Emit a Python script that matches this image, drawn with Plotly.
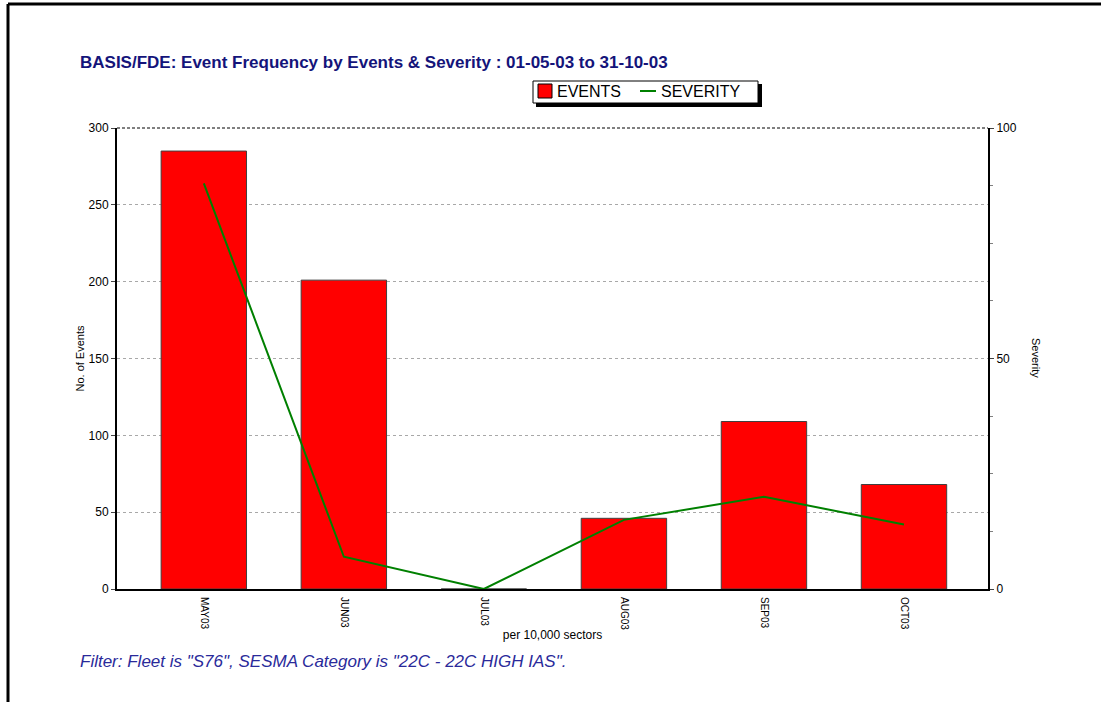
import plotly.graph_objects as go

# values
months = ["MAY03", "JUN03", "JUL03", "AUG03", "SEP03", "OCT03"]
events = [285, 201, 0, 46, 109, 68]
severity = [88, 7, 0, 15, 20, 14]

W, H = 1101, 702
L, R, T, B = 117, 988, 128, 589  # plot area in pixels

def px(x):
    return (x - L) / (R - L)

def py(y):
    return (B - y) / (B - T)

font = "Liberation Sans, Arial, sans-serif"

fig = go.Figure()
fig.add_trace(go.Bar(x=list(range(len(months))), y=events, name="EVENTS",
                     marker=dict(color="#ff0000", line=dict(color="#404040", width=1)),
                     width=0.61))
fig.add_trace(go.Scatter(x=list(range(len(months))), y=severity, name="SEVERITY",
                         mode="lines", line=dict(color="#008000", width=2), yaxis="y2"))

fig.update_layout(
    width=W, height=H,
    margin=dict(l=L, r=W - R, t=T, b=H - B),
    paper_bgcolor="white", plot_bgcolor="white",
    font=dict(family=font, size=12, color="black"),
    title=dict(text="<b>BASIS/FDE: Event Frequency by Events & Severity : 01-05-03 to 31-10-03</b>",
               x=80 / W, xanchor="left", y=1 - 62 / H, yanchor="middle",
               font=dict(family=font, size=17, color="#14147a")),
    showlegend=False,
    bargap=0.39,
    xaxis=dict(range=[-0.62, 5.6], tickmode="array", tickvals=list(range(len(months))),
               ticktext=months, tickangle=90, ticks="outside", ticklen=4,
               tickcolor="white",
               showline=True, linecolor="black", linewidth=2, showgrid=False,
               zeroline=False, tickfont=dict(size=10),
               title=dict(text="per 10,000 sectors", font=dict(size=12), standoff=1)),
    yaxis=dict(range=[0, 300], tickvals=[0, 50, 100, 150, 200, 250, 300],
               showline=True, linecolor="black", linewidth=2, ticks="outside",
               ticklen=4, showgrid=True, gridcolor="#a8a8a8", griddash="3px,3px",
               gridwidth=1, zeroline=False, tickfont=dict(size=12),
               title=dict(text="No. of Events", font=dict(size=11), standoff=2)),
    yaxis2=dict(range=[0, 100], overlaying="y", side="right",
                tickvals=[0, 50, 100], showline=True, linecolor="black", linewidth=2,
                ticks="outside", ticklen=4, showgrid=False, zeroline=False,
                tickfont=dict(size=12),
                minor=dict(dtick=12.5, ticks="outside", ticklen=3, tickcolor="#808080")),
)

shapes = [
    # top border of the plot, dashed black
    dict(type="line", xref="paper", yref="paper", x0=0, x1=1, y0=1, y1=1,
         line=dict(color="black", width=1, dash="3px,2px")),
    # legend box with drop shadow
    dict(type="rect", xref="paper", yref="paper", x0=px(536), x1=px(762),
         y0=py(84), y1=py(107), fillcolor="black", line=dict(width=0)),
    dict(type="rect", xref="paper", yref="paper", x0=px(533), x1=px(758),
         y0=py(81), y1=py(103), fillcolor="white", line=dict(color="black", width=1)),
    dict(type="rect", xref="paper", yref="paper", x0=px(538), x1=px(552),
         y0=py(84), y1=py(98), fillcolor="#ff0000", line=dict(color="black", width=1)),
    dict(type="line", xref="paper", yref="paper", x0=px(640), x1=px(656),
         y0=py(91), y1=py(91), line=dict(color="#008000", width=2)),
    # outer frame (top and left)
    dict(type="line", xref="paper", yref="paper", x0=px(8), x1=px(1101),
         y0=py(4), y1=py(4), line=dict(color="black", width=3)),
    dict(type="line", xref="paper", yref="paper", x0=px(8), x1=px(8),
         y0=py(4), y1=py(702), line=dict(color="black", width=3)),
]
fig.update_layout(shapes=shapes)

fig.add_annotation(text="EVENTS", xref="paper", yref="paper", x=px(555), y=py(91),
                   xanchor="left", yanchor="middle", showarrow=False,
                   font=dict(family=font, size=16))
fig.add_annotation(text="SEVERITY", xref="paper", yref="paper", x=px(659), y=py(91),
                   xanchor="left", yanchor="middle", showarrow=False,
                   font=dict(family=font, size=16))
fig.add_annotation(text="Severity", xref="paper", yref="paper", x=px(1036), y=py(358),
                   xanchor="center", yanchor="middle",
                   textangle=90, showarrow=False, font=dict(size=11))
fig.add_annotation(text="<i>Filter: Fleet is \"S76\", SESMA Category is \"22C - 22C HIGH IAS\".</i>",
                   xref="paper", yref="paper", x=px(78), y=py(661), xanchor="left",
                   yanchor="middle", showarrow=False,
                   font=dict(family=font, size=17, color="#2a2a9a"))

# page body has a default 8px margin; drop it so the figure sits at the window origin
fig.write_html("out.html", config={"displayModeBar": False},
               post_script="document.body.style.margin='0';")
